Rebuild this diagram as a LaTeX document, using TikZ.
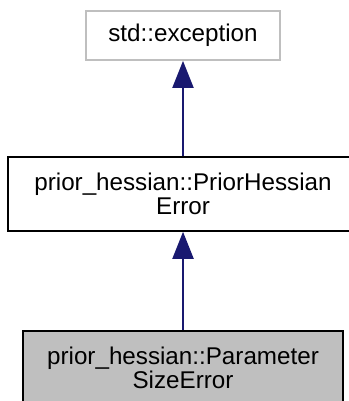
\documentclass[tikz,border=0pt]{standalone}
\usepackage{fontspec}
\setmainfont{Liberation Sans}
\usetikzlibrary{arrows.meta}
\definecolor{edgeblue}{HTML}{191970}
\definecolor{boxgray}{HTML}{BFBFBF}
\definecolor{bordergray}{HTML}{BFBFBF}
\tikzset{
  cls/.style={draw=black, line width=1.6pt, rectangle, align=center, inner sep=0pt,
    font=\fontsize{24.2pt}{24.5pt}\selectfont},
  arr/.style={draw=edgeblue, line width=2pt, -{Triangle[width=21pt,length=27pt]}, fill=edgeblue}
}
\begin{document}
\begin{tikzpicture}[x=1pt,y=-1pt]
\useasboundingbox (0,0) rectangle (348,401);
\node[cls, draw=bordergray, line width=1.8pt, minimum width=194pt, minimum height=49pt] (top) at (183,35.5) {std::exception};
\node[cls, minimum width=350pt, minimum height=74pt] (mid) at (183,194) {prior\_hessian::PriorHessian\\Error};
\node[cls, fill=boxgray, minimum width=320pt, minimum height=74pt] (bot) at (183,368) {prior\_hessian::Parameter\\SizeError};
\draw[arr] (bot.north) -- (mid.south);
\draw[arr] (mid.north) -- (top.south);
\end{tikzpicture}
\end{document}
